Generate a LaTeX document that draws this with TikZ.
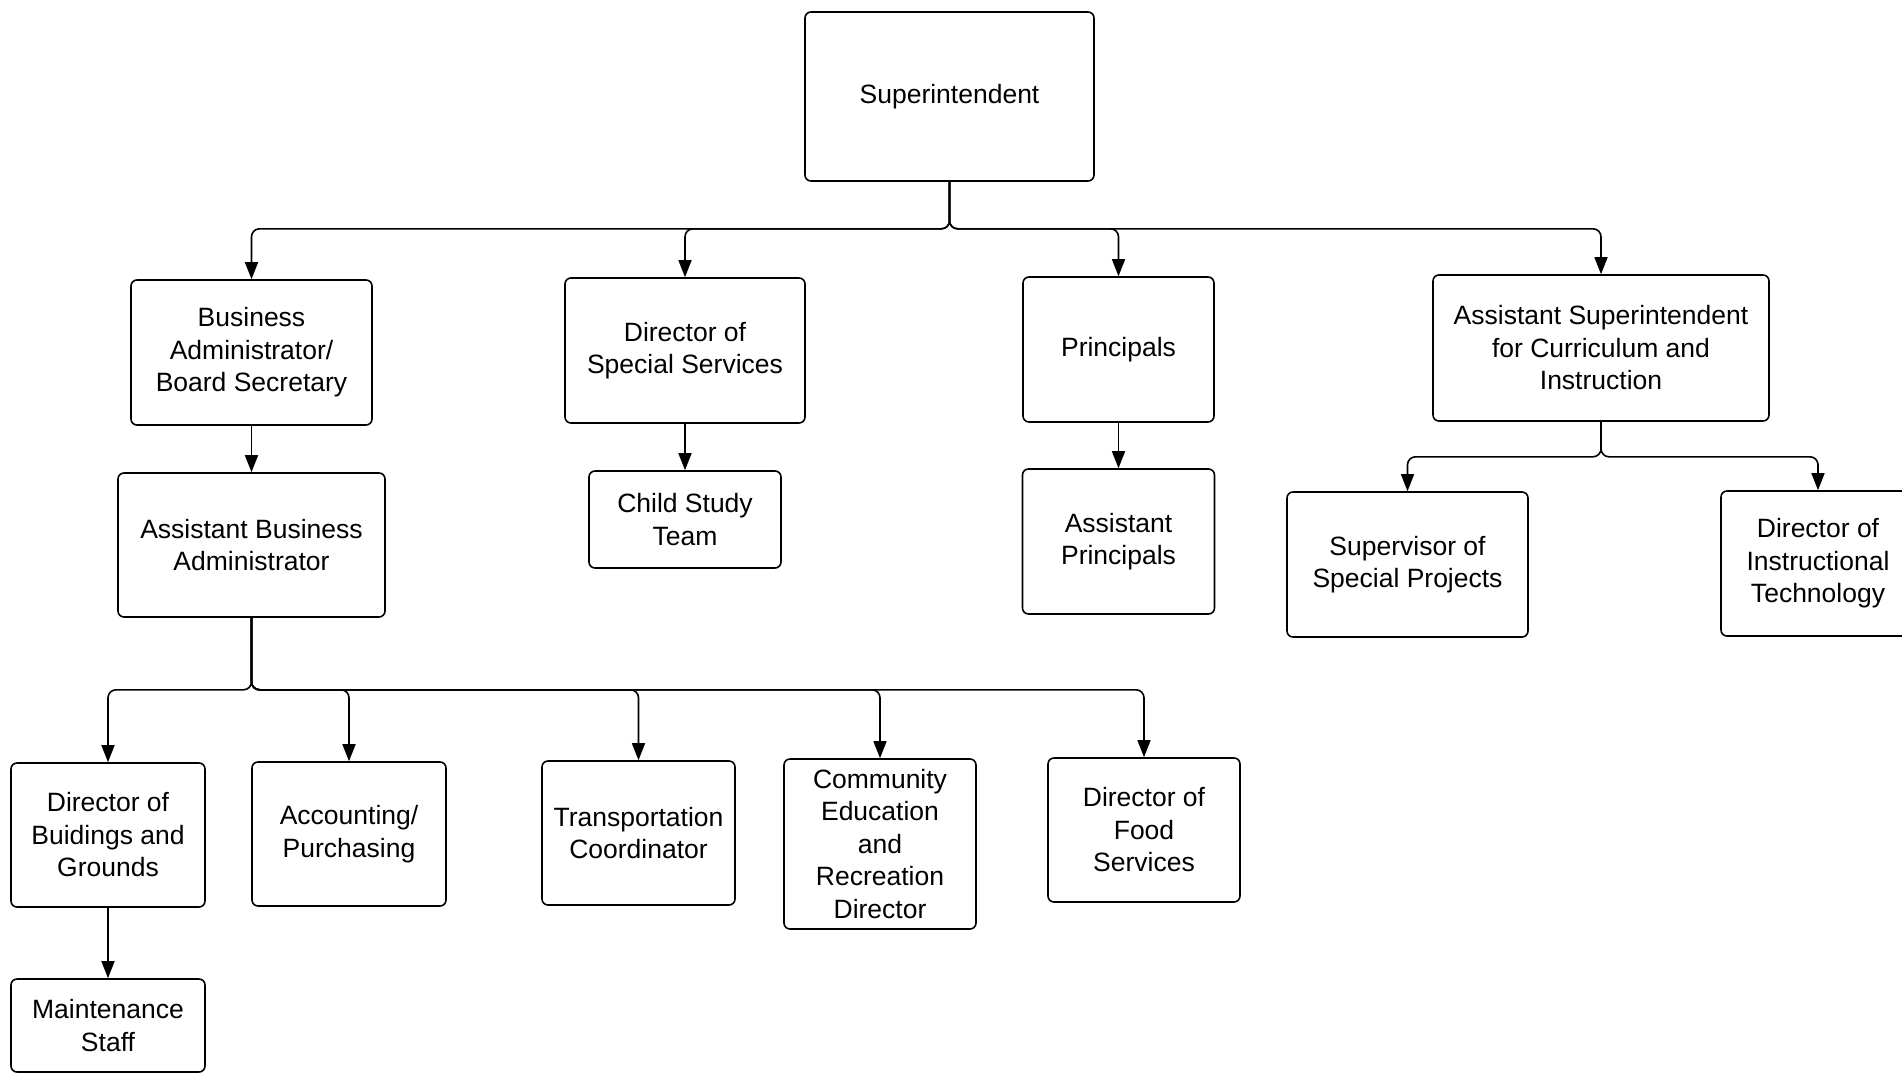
\documentclass[tikz,border=0pt]{standalone}
\usepackage{fontspec}
\setmainfont{Liberation Sans}
\usetikzlibrary{arrows.meta}
\begin{document}
\begin{tikzpicture}[x=1pt,y=-1pt,
  box/.style={draw, line width=1.6pt, rounded corners=6pt, align=center, inner sep=0pt,
    font=\fontsize{26.5}{32.5}\selectfont},
  conn/.style={line width=1.6pt, rounded corners=8pt},
  arr/.style={conn, -{Triangle[length=17pt,width=13pt]}}]
\useasboundingbox (0,0) rectangle (1902,1074);
\clip (0,0) rectangle (1902,1074);
\fill[white] (0,0) rectangle (1902,1074);

\node[box, minimum width=289, minimum height=169] (sup) at (949.5,96.5) {Superintendent};

\node[box, minimum width=241, minimum height=145] (ba)  at (251.5,352.5) {Business\\Administrator/\\Board Secretary};
\node[box, minimum width=240, minimum height=145] (dss) at (685,350.5) {Director of\\Special Services};
\node[box, minimum width=191, minimum height=145] (pri) at (1118.5,349.5) {Principals};
\node[box, minimum width=336, minimum height=146] (asi) at (1601,348) {Assistant Superintendent\\for Curriculum and\\Instruction};

\node[box, minimum width=267, minimum height=144] (aba) at (251.5,545) {Assistant Business\\Administrator};
\node[box, minimum width=192, minimum height=97]  (cst) at (685,519.5) {Child Study\\Team};
\node[box, minimum width=192, minimum height=145] (apr) at (1118.5,541.5) {Assistant\\Principals};
\node[box, minimum width=241, minimum height=145] (ssp) at (1407.5,564.5) {Supervisor of\\Special Projects};
\node[box, minimum width=194, minimum height=145] (dit) at (1818,563.5) {Director of\\Instructional\\Technology};

\node[box, minimum width=194, minimum height=144] (dbg) at (108,835) {Director of\\Buidings and\\Grounds};
\node[box, minimum width=194, minimum height=144] (acc) at (349,834) {Accounting/\\Purchasing};
\node[box, minimum width=193, minimum height=144] (tra) at (638.5,833) {Transportation\\Coordinator};
\node[box, minimum width=192, minimum height=170] (com) at (880,844) {Community\\Education\\and\\Recreation\\Director};
\node[box, minimum width=194, minimum height=93]  (mst) at (108,1025.5) {Maintenance\\Staff};
\node[box, minimum width=192, minimum height=144] (dfs) at (1144,830) {Director of\\Food\\Services};

% Superintendent to row 2
\foreach \t in {ba,dss,pri,asi}
  \draw[arr] (sup.south) -- ++(0,47) -| (\t.north);

% straight links
\draw[arr] (ba.south) -- (aba.north);
\draw[arr] (dss.south) -- (cst.north);
\draw[arr] (pri.south) -- (apr.north);
\draw[arr] (dbg.south) -- (mst.north);

% Assistant Superintendent children
\foreach \t in {ssp,dit}
  \draw[arr] (asi.south) -- ++(0,35) -| (\t.north);

% Assistant Business Administrator children
\foreach \t in {dbg,acc,tra,com,dfs}
  \draw[arr] (aba.south) -- ++(0,72) -| (\t.north);
\end{tikzpicture}
\end{document}
